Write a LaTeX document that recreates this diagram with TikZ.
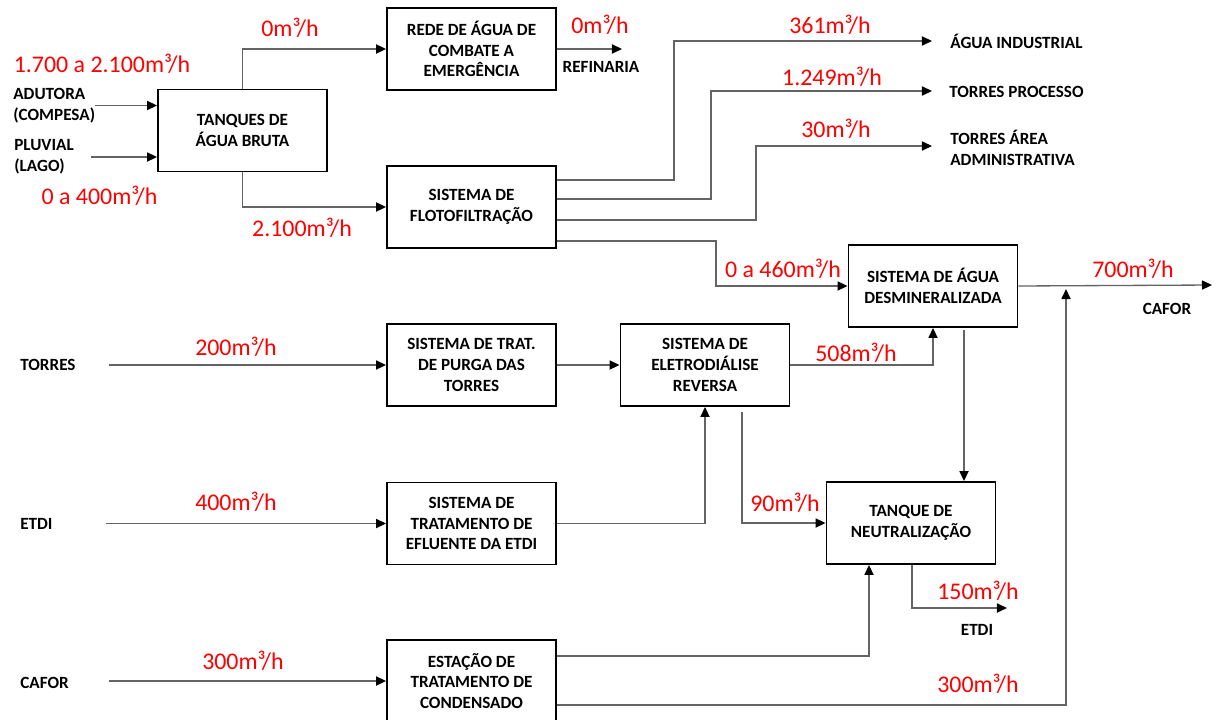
\documentclass[tikz,border=0pt]{standalone}
\usepackage{fontspec}
\usetikzlibrary{arrows.meta}
\newfontfamily\carlito{Carlito}
\newcommand\blkfont{\carlito\bfseries\fontsize{9.75pt}{11.8pt}\selectfont}
\newcommand\redfont{\carlito\fontsize{13.6pt}{15pt}\selectfont}
\definecolor{linegray}{RGB}{100,100,100}
\definecolor{flowred}{RGB}{255,0,0}
\tikzset{
  box/.style={draw=black, line width=1.1pt, minimum width=3.38cm, minimum height=1.64cm,
    align=center, font=\blkfont, inner sep=1pt},
  lbl/.style={font=\blkfont, align=left, inner sep=0pt},
  flow/.style={font=\redfont, text=flowred, inner sep=0pt},
  conn/.style={draw=linegray, line width=0.75pt, -{Triangle[length=5.7pt,width=5.2pt,color=black]}}
}
\begin{document}
\begin{tikzpicture}[x=0.02cm,y=-0.02cm]
\useasboundingbox (0,0) rectangle (1221,720);
\clip (0,0) rectangle (1221,720);
\fill[white] (0,0) rectangle (1221,720);
% boxes
\node[box] (tanques) at (242.5,130.5) {TANQUES DE\\ÁGUA BRUTA};
\node[box] (rede) at (471.5,49) {REDE DE ÁGUA DE\\COMBATE A\\EMERGÊNCIA};
\node[box] (floto) at (471.5,207) {SISTEMA DE\\FLOTOFILTRAÇÃO};
\node[box] (desmin) at (933,286) {SISTEMA DE ÁGUA\\DESMINERALIZADA};
\node[box] (eletro) at (705,365) {SISTEMA DE\\ELETRODIÁLISE\\REVERSA};
\node[box] (purga) at (471.5,365) {SISTEMA DE TRAT.\\DE PURGA DAS\\TORRES};
\node[box] (etdit) at (471.5,523.5) {SISTEMA DE\\TRATAMENTO DE\\EFLUENTE DA ETDI};
\node[box] (estacao) at (471.5,681) {ESTAÇÃO DE\\TRATAMENTO DE\\CONDENSADO};
\node[box] (neutral) at (911,523) {TANQUE DE\\NEUTRALIZAÇÃO};
% black labels
\node[lbl, anchor=west] (adutora) at (13,105.5) {ADUTORA\\(COMPESA)};
\node[lbl, anchor=west] (pluvial) at (14,157) {PLUVIAL\\(LAGO)};
\node[lbl] (refin) at (601,67) {REFINARIA};
\node[lbl, anchor=west] (aguaind) at (950,41) {ÁGUA INDUSTRIAL};
\node[lbl, anchor=west] (torproc) at (949,92) {TORRES PROCESSO};
\node[lbl, anchor=west] (toradm) at (950,147.5) {TORRES ÁREA\\ADMINISTRATIVA};
\node[lbl] (cafor2) at (1167,309) {CAFOR};
\node[lbl, anchor=west] (torres) at (20,365) {TORRES};
\node[lbl, anchor=west] (etdi) at (20,524) {ETDI};
\node[lbl, anchor=west] (cafor) at (20,683) {CAFOR};
\node[lbl] (etdi2) at (977,630) {ETDI};
% red flow labels
\node[flow] (f1) at (102,64) {1.700 a 2.100m³/h};
\node[flow] (f2) at (99.5,196) {0 a 400m³/h};
\node[flow] (f3) at (290,28) {0m³/h};
\node[flow] (f4) at (302,228) {2.100m³/h};
\node[flow] (f5) at (600,25) {0m³/h};
\node[flow] (f6) at (830,25) {361m³/h};
\node[flow] (f7) at (832,77) {1.249m³/h};
\node[flow] (f8) at (836,129) {30m³/h};
\node[flow] (f9) at (783,269) {0 a 460m³/h};
\node[flow] (f10) at (1133,269) {700m³/h};
\node[flow] (f11) at (856,353) {508m³/h};
\node[flow] (f12) at (236,347) {200m³/h};
\node[flow] (f13) at (236,502) {400m³/h};
\node[flow] (f14) at (243,661) {300m³/h};
\node[flow] (f15) at (785,503) {90m³/h};
\node[flow] (f16) at (978,591) {150m³/h};
\node[flow] (f17) at (978,684) {300m³/h};
% free ends
\coordinate (pluvS) at (91,157);
\coordinate (refA) at (622,49);
\coordinate (indA) at (932,41);
\coordinate (procA) at (932,91);
\coordinate (admA) at (932,146);
\coordinate (cafA) at (1212,285);
\coordinate (j300) at (1066,289);
\coordinate (torS) at (109,365);
\coordinate (etdiS) at (106,523.5);
\coordinate (cafS) at (109,681);
\coordinate (e90) at (742,412);
\coordinate (etdiA) at (1007,608);
% connectors
\draw[conn] (adutora.east) -- (tanques.west |- adutora.east);
\draw[conn] (pluvS) -- (tanques.west |- pluvS);
\draw[conn] (tanques.north) |- (rede.west);
\draw[conn] (tanques.south) |- (floto.west);
\draw[conn] (rede.east) -- (refA);
\draw[conn] (floto.east |- 0,180) -| (674,41) -- (indA);
\draw[conn] (floto.east |- 0,199) -| (711,91) -- (procA);
\draw[conn] (floto.east |- 0,220) -| (756,146) -- (admA);
\draw[conn] (floto.east |- 0,241) -| (716,286) -- (desmin.west);
\draw[conn] (desmin.east) -- (cafA);
\draw[conn] (estacao.east |- 0,705) -| (j300);
\draw[conn] (eletro.east) -| (desmin.south);
\draw[conn] (purga.east) -- (eletro.west);
\draw[conn] (torS) -- (purga.west);
\draw[conn] (etdiS) -- (etdit.west);
\draw[conn] (cafS) -- (estacao.west);
\draw[conn] (etdit.east) -| (eletro.south);
\draw[conn] (e90) |- (neutral.west);
\draw[conn] ([yshift=-0.04cm]desmin.south -| 964,0) -- (neutral.north -| 964,0);
\draw[conn] (estacao.east |- 0,656) -| (neutral.south -| 869,0);
\draw[conn] (neutral.south -| 912,0) |- (etdiA);
\end{tikzpicture}
\end{document}
